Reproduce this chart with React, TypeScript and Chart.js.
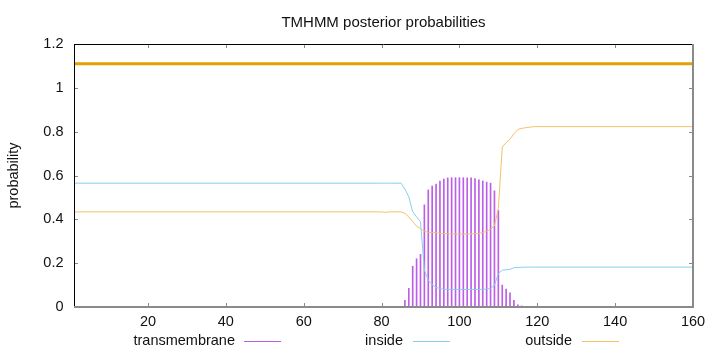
import React, { useEffect, useRef } from "react";
import { Chart, registerables } from "chart.js";

Chart.register(...registerables);

const TITLE = "TMHMM posterior probabilities";
const Y_TITLE = "probability";
const X_MIN = 1;
const X_MAX = 160;
const X_TICKS = [20, 40, 60, 80, 100, 120, 140, 160];
const Y_TICKS = [0, 0.2, 0.4, 0.6, 0.8, 1, 1.2];

const residues = [1, 80, 81, 82, 85, 86, 87, 88, 89, 90, 91, 92, 93, 94, 95, 96, 97, 98, 99, 100, 101, 102, 103, 104, 105, 106, 107, 108, 109, 110, 111, 112, 113, 114, 115, 116, 117, 118, 119, 160];
const transmembrane = [0, 0, 0, 0, 0, 0.031, 0.085, 0.186, 0.22, 0.24, 0.466, 0.534, 0.552, 0.561, 0.575, 0.584, 0.589, 0.59, 0.59, 0.59, 0.59, 0.589, 0.589, 0.586, 0.58, 0.575, 0.57, 0.565, 0.53, 0.44, 0.1, 0.082, 0.065, 0.03, 0.01, 0.005, 0.003, 0.002, 0, 0];
const inside = [0.565, 0.565, 0.565, 0.565, 0.565, 0.538, 0.503, 0.435, 0.411, 0.389, 0.168, 0.122, 0.102, 0.089, 0.085, 0.081, 0.08, 0.08, 0.08, 0.08, 0.08, 0.08, 0.08, 0.08, 0.08, 0.08, 0.082, 0.085, 0.099, 0.153, 0.168, 0.17, 0.172, 0.179, 0.18, 0.181, 0.182, 0.182, 0.182, 0.182];
const outside = [0.434, 0.434, 0.432, 0.434, 0.434, 0.427, 0.411, 0.389, 0.369, 0.358, 0.346, 0.34, 0.34, 0.338, 0.337, 0.335, 0.334, 0.333, 0.333, 0.333, 0.333, 0.333, 0.334, 0.334, 0.336, 0.34, 0.345, 0.355, 0.37, 0.45, 0.73, 0.75, 0.766, 0.79, 0.81, 0.815, 0.818, 0.82, 0.823, 0.823];
const topologyX = [1, 160];
const topologyY = [1.11, 1.11];
const SERIES_LABELS = ["transmembrane", "inside", "outside"];

const FONT = "'Liberation Sans', Arial, Helvetica, sans-serif";
const COLORS = {
  tm: "#bb5ee8",
  inside: "#87ceeb",
  outside: "#f2c06a",
  topology: "#e69f00",
};

const decorPlugin = {
  id: "decor",
  afterDraw(chart: any) {
    const { ctx, chartArea: a, scales } = chart;
    ctx.save();
    const seg = (x1: number, y1: number, x2: number, y2: number) => {
      ctx.beginPath();
      ctx.moveTo(x1, y1);
      ctx.lineTo(x2, y2);
      ctx.stroke();
    };
    // inward ticks (mirrored)
    ctx.strokeStyle = "#8a8a8a";
    ctx.lineWidth = 1;
    for (const v of X_TICKS) {
      const px = Math.round(scales.x.getPixelForValue(v)) + 0.5;
      seg(px, a.bottom, px, a.bottom - 4);
      seg(px, a.top, px, a.top + 4);
    }
    for (const v of Y_TICKS) {
      const py = Math.round(scales.y.getPixelForValue(v)) + 0.5;
      seg(a.left, py, a.left + 4, py);
      seg(a.right, py, a.right - 4, py);
    }
    // frame
    ctx.strokeStyle = "#000";
    ctx.lineWidth = 1;
    seg(Math.round(a.left) + 0.5, a.top, Math.round(a.left) + 0.5, a.bottom);
    seg(a.left, Math.round(a.top) + 0.5, a.right, Math.round(a.top) + 0.5);
    ctx.strokeStyle = "#8a8a8a";
    ctx.lineWidth = 2;
    seg(a.left, Math.round(a.bottom), a.right + 1, Math.round(a.bottom));
    seg(Math.round(a.right), a.top, Math.round(a.right), a.bottom + 1);

    // title
    ctx.fillStyle = "#111";
    ctx.font = `15px ${FONT}`;
    ctx.textAlign = "center";
    ctx.textBaseline = "alphabetic";
    ctx.fillText(TITLE, (a.left + a.right) / 2, 26.5);

    // legend (gnuplot style: text, then sample)
    const textRight = [235, 403, 572];
    const sampleLeft = [244, 413, 582];
    const ly = 341;
    ctx.font = `14.5px ${FONT}`;
    ctx.textAlign = "right";
    ctx.textBaseline = "middle";
    chart.data.datasets.slice(0, 3).forEach((ds: any, i: number) => {
      ctx.fillStyle = "#111";
      ctx.fillText(ds.label, textRight[i], ly);
      ctx.strokeStyle = ds.legendColor;
      ctx.lineWidth = 1;
      seg(sampleLeft[i], ly + 0.5, sampleLeft[i] + 37, ly + 0.5);
    });
    ctx.restore();
  },
};

export default function App() {
  const ref = useRef<HTMLCanvasElement>(null);

  useEffect(() => {
    if (!ref.current) return;
    const chart = new Chart(ref.current, {
      type: "bar",
      data: {
        datasets: [
          {
            type: "bar",
            label: SERIES_LABELS[0],
            data: residues.map((x, i) => ({ x, y: transmembrane[i] })),
            backgroundColor: COLORS.tm,
            borderWidth: 0,
            barThickness: 1,
            grouped: false,
            legendColor: COLORS.tm,
            order: 3,
          } as any,
          {
            type: "line",
            label: SERIES_LABELS[1],
            data: residues.map((x, i) => ({ x, y: inside[i] })),
            borderColor: COLORS.inside,
            borderWidth: 1,
            pointRadius: 0,
            tension: 0,
            fill: false,
            legendColor: COLORS.inside,
            order: 2,
          } as any,
          {
            type: "line",
            label: SERIES_LABELS[2],
            data: residues.map((x, i) => ({ x, y: outside[i] })),
            borderColor: COLORS.outside,
            borderWidth: 1,
            pointRadius: 0,
            tension: 0,
            fill: false,
            legendColor: COLORS.outside,
            order: 1,
          } as any,
          {
            type: "line",
            label: "topology",
            data: topologyX.map((x, i) => ({ x, y: topologyY[i] })),
            borderColor: COLORS.topology,
            borderWidth: 3,
            pointRadius: 0,
            fill: false,
            order: 0,
          } as any,
        ],
      },
      options: {
        animation: false,
        responsive: false,
        devicePixelRatio: 1,
        layout: { padding: { left: 0, right: 27, top: 44, bottom: 0 } },
        plugins: {
          legend: { display: false },
          title: { display: false },
          tooltip: { enabled: false },
        },
        scales: {
          x: {
            type: "linear",
            min: X_MIN,
            max: X_MAX,
            offset: false,
            grid: { display: false, drawTicks: false },
            border: { display: false },
            afterBuildTicks: (scale: any) => {
              scale.ticks = X_TICKS.map((v) => ({ value: v }));
            },
            afterFit: (scale: any) => {
              scale.height = 45;
            },
            ticks: {
              padding: 6,
              color: "#111",
              font: { family: FONT, size: 14.5 },
              maxRotation: 0,
              autoSkip: false,
              callback: (v: any) => String(v),
            },
          },
          y: {
            type: "linear",
            min: 0,
            max: 1.2,
            grid: { display: false, drawTicks: false },
            border: { display: false },
            afterBuildTicks: (scale: any) => {
              scale.ticks = Y_TICKS.map((v) => ({ value: v }));
            },
            afterFit: (scale: any) => {
              scale.width = 74;
            },
            title: {
              display: true,
              text: Y_TITLE,
              color: "#111",
              font: { family: FONT, size: 14.5 },
              padding: { top: 5, bottom: 0 },
            },
            ticks: {
              padding: 10.5,
              color: "#111",
              font: { family: FONT, size: 14.5 },
              autoSkip: false,
              callback: (v: any) => String(v),
            },
          },
        },
      } as any,
      plugins: [decorPlugin],
    });
    return () => chart.destroy();
  }, []);

  return (
    <div style={{ position: "fixed", left: 0, top: 0, width: 720, height: 352, background: "#fff" }}>
      <canvas ref={ref} width={720} height={352} style={{ display: "block" }} />
    </div>
  );
}
